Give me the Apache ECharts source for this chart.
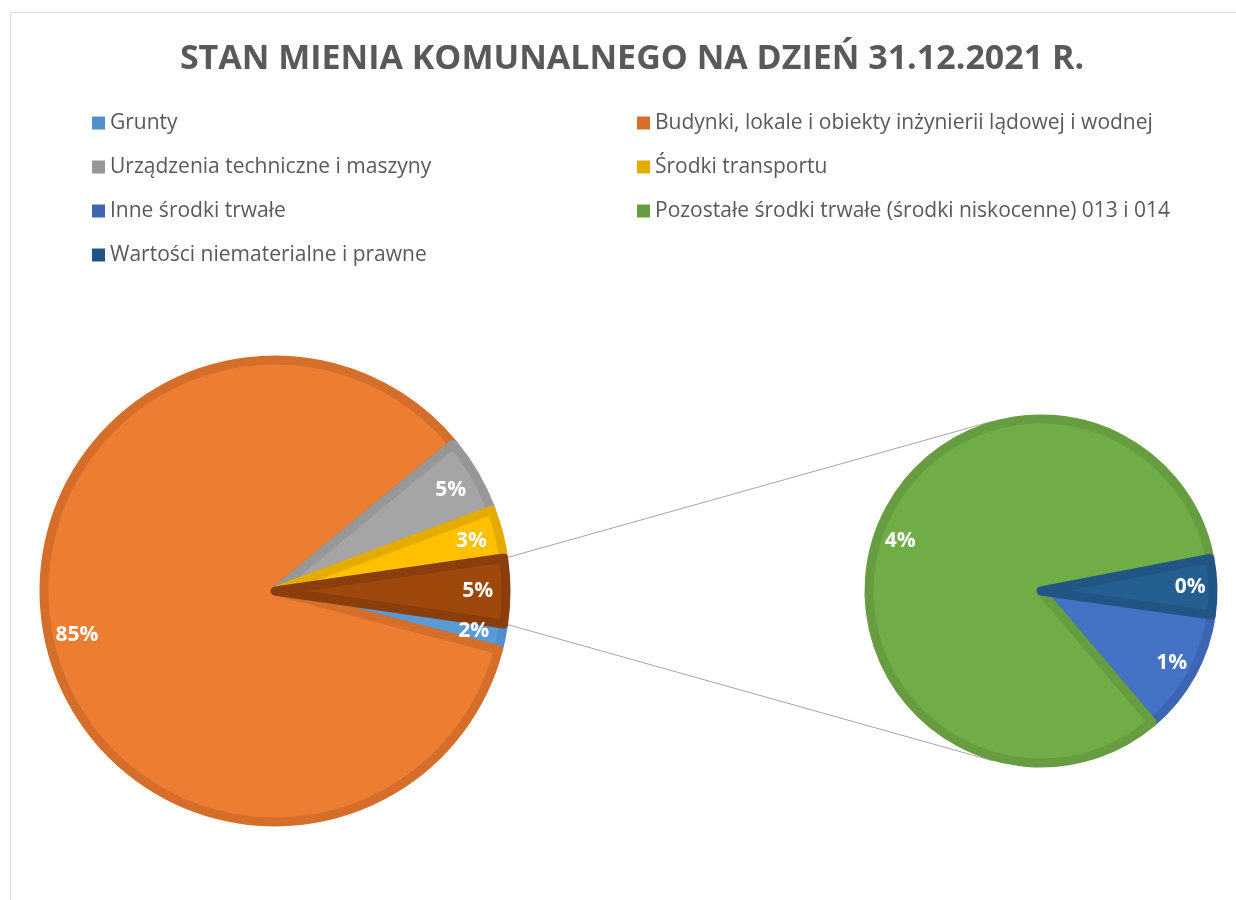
<!DOCTYPE html>
<html>
<head>
<meta charset="utf-8">
<title>Stan mienia komunalnego</title>
<script src="https://cdn.jsdelivr.net/npm/echarts@6.0.0/dist/echarts.min.js"></script>
<style>
  html, body { margin: 0; padding: 0; background: #fff; }
  #chart { width: 1236px; height: 900px; }
</style>
</head>
<body>
<div id="chart"></div>
<script>
// dane (udział w %)
const categories = [
  'Grunty',
  'Budynki, lokale i obiekty inżynierii lądowej i wodnej',
  'Urządzenia techniczne i maszyny',
  'Środki transportu',
  'Inne środki trwałe',
  'Pozostałe środki trwałe (środki niskocenne) 013 i 014',
  'Wartości niematerialne i prawne'
];
const shares = [1.8, 84.9, 5.3, 3.4, 0.53, 3.8, 0.24];
const inSecondPie = [false, false, false, false, true, true, true];
const fillColors = ['#5B9BD5', '#ED7D31', '#A5A5A5', '#FFC000', '#4472C4', '#70AD47', '#255E91'];
const edgeColors = ['#5390C9', '#D56E2B', '#979797', '#E5AC00', '#3D66B2', '#669D40', '#215583'];
const otherName = 'Pozostałe pozycje';
const otherFill = '#9E480E';
const otherEdge = '#8A3E0C';

// geometria
const mainCenter = [275, 591];
const mainR = 231;
const subCenter = [1041, 591];
const subR = 172;
const edge = 9;
const font = '"Open Sans", sans-serif';

const total = shares.reduce((a, b) => a + b, 0);
const otherValue = shares.filter((v, i) => inSecondPie[i]).reduce((a, b) => a + b, 0);
const otherDeg = otherValue / total * 360;
const mainStart = -otherDeg / 2;
const subStart = -8;

const mainData = [];
const subData = [];
categories.forEach((name, i) => {
  const item = { name, value: shares[i], itemStyle: { color: fillColors[i], borderColor: edgeColors[i] } };
  (inSecondPie[i] ? subData : mainData).push(item);
});
mainData.push({ name: otherName, value: otherValue, itemStyle: { color: otherFill, borderColor: otherEdge } });

const pct = p => Math.round(p.value / total * 100) + '%';

const pt = (c, r, deg) => {
  const a = deg * Math.PI / 180;
  return [c[0] + r * Math.cos(a), c[1] - r * Math.sin(a)];
};

// linie łączące: od krawędzi wycinka "pozostałe" do stycznej z drugim kołem
const connector = (deg, side) => {
  const p = pt(mainCenter, mainR + edge / 2, deg);
  const rs = subR + edge / 2;
  const dx = p[0] - subCenter[0], dy = subCenter[1] - p[1];
  const d = Math.sqrt(dx * dx + dy * dy);
  const base = Math.atan2(dy, dx) * 180 / Math.PI;
  const alpha = Math.acos(rs / d) * 180 / Math.PI;
  const q = pt(subCenter, rs, base + side * alpha);
  return {
    type: 'line',
    shape: { x1: p[0], y1: p[1], x2: q[0], y2: q[1] },
    style: { stroke: '#A6A6A6', lineWidth: 1 },
    z: 1
  };
};

const legendItem = name => {
  const i = categories.indexOf(name);
  return { name, itemStyle: { color: edgeColors[i], borderWidth: 0 } };
};

const legendBase = {
  orient: 'vertical',
  top: 111,
  padding: 0,
  itemWidth: 13,
  itemHeight: 13,
  itemGap: 20,
  icon: 'rect',
  selectedMode: false,
  textStyle: { fontFamily: font, fontSize: 21, color: '#595959', lineHeight: 24 }
};

const pieBase = {
  type: 'pie',
  clockwise: true,
  animation: false,
  avoidLabelOverlap: false,
  emphasis: { disabled: true },
  labelLine: { show: false }
};

const labelStyle = {
  show: true,
  position: 'inside',
  formatter: pct,
  color: '#FFFFFF',
  fontFamily: font,
  fontWeight: 'bold',
  fontSize: 21,
  textBorderWidth: 0
};

const chart = echarts.init(document.getElementById('chart'));
chart.setOption({
  backgroundColor: '#FFFFFF',
  title: {
    text: 'STAN MIENIA KOMUNALNEGO NA DZIEŃ 31.12.2021 R.',
    left: 627,
    textAlign: 'center',
    top: 37,
    textStyle: { fontFamily: font, fontSize: 34, fontWeight: 'bold', color: '#595959' }
  },
  legend: [
    Object.assign({}, legendBase, {
      left: 92,
      data: ['Grunty', 'Urządzenia techniczne i maszyny', 'Inne środki trwałe', 'Wartości niematerialne i prawne'].map(legendItem)
    }),
    Object.assign({}, legendBase, {
      left: 637,
      data: ['Budynki, lokale i obiekty inżynierii lądowej i wodnej', 'Środki transportu', 'Pozostałe środki trwałe (środki niskocenne) 013 i 014'].map(legendItem)
    })
  ],
  graphic: [
    {
      type: 'rect',
      shape: { x: 10.5, y: 12.5, width: 1240, height: 900 },
      style: { fill: 'none', stroke: '#D9D9D9', lineWidth: 1 },
      silent: true
    },
    connector(otherDeg / 2, -1),
    connector(-otherDeg / 2, 1)
  ],
  series: [
    Object.assign({}, pieBase, {
      name: 'main',
      center: mainCenter,
      radius: [0, mainR],
      startAngle: mainStart,
      label: { show: false },
      itemStyle: { borderWidth: edge, borderJoin: 'round' },
      data: mainData
    }),
    Object.assign({}, pieBase, {
      name: 'sub',
      center: subCenter,
      radius: [0, subR],
      startAngle: subStart,
      label: { show: false },
      itemStyle: { borderWidth: edge, borderJoin: 'round' },
      data: subData
    }),
    // etykiety procentowe bliżej krawędzi koła
    Object.assign({}, pieBase, {
      name: 'mainLabels',
      silent: true,
      center: mainCenter,
      radius: [mainR * 0.73, mainR],
      startAngle: mainStart,
      label: labelStyle,
      itemStyle: { color: 'rgba(0,0,0,0)', borderWidth: 0 },
      data: mainData.map(d => ({ name: d.name, value: d.value }))
    }),
    Object.assign({}, pieBase, {
      name: 'subLabels',
      silent: true,
      center: subCenter,
      radius: [subR * 0.7, subR],
      startAngle: subStart,
      label: labelStyle,
      itemStyle: { color: 'rgba(0,0,0,0)', borderWidth: 0 },
      data: subData.map(d => ({ name: d.name, value: d.value }))
    })
  ]
});
</script>
</body>
</html>
